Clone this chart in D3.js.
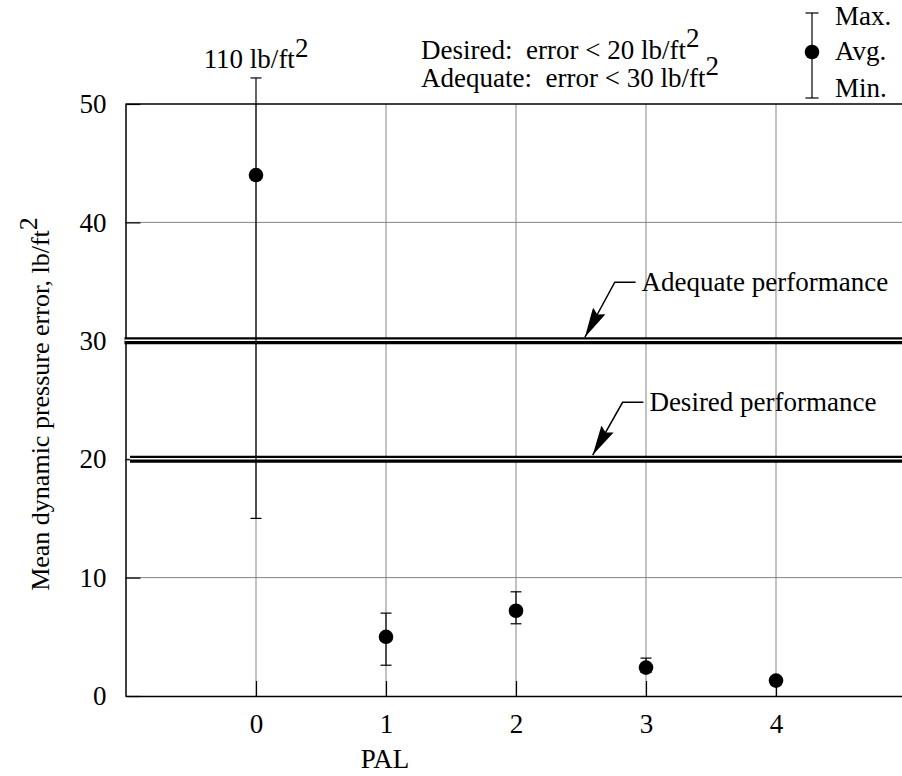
<!DOCTYPE html>
<html>
<head>
<meta charset="utf-8">
<script src="https://cdn.jsdelivr.net/npm/d3@7"></script>
<style>
  html, body { margin: 0; padding: 0; background: #fff; }
  svg { display: block; }
  text { font-family: "Liberation Serif", "Times New Roman", serif; fill: #000; }
</style>
</head>
<body>
<svg id="chart" width="902" height="776"></svg>
<script>
// Pilot assessment level (PAL) vs. mean dynamic pressure error
const palLevels = [0, 1, 2, 3, 4];
const avgError  = [44, 5.0, 7.2, 2.4, 1.3];
const maxError  = [110, 7.0, 8.8, 3.2, 1.6];
const minError  = [15, 2.6, 6.1, 2.0, 1.0];

const xTicks = [0, 1, 2, 3, 4];
const yTicks = [0, 10, 20, 30, 40, 50];

// performance limits (lb/ft^2)
const limitValues = [30, 20];
const limitNames  = ["Adequate performance", "Desired performance"];
// leader arrows for the limit labels, in data units: [tipX, tipY, bendX, bendY, endX]
const limitLeaders = [
  [2.53, 30.3, 2.76, 34.95, 2.92],
  [2.59, 20.35, 2.82, 24.8, 2.98]
];

// values above this are drawn with a capped stub and a value label
const offscaleCap = 52.2;

const svg = d3.select("#chart");

const x = d3.scaleLinear().domain([-1, 5]).range([126, 906]);
const y = d3.scaleLinear().domain([0, 50]).range([696, 104]);

const FS = 27;
const gridColor = "#858585";

// grid
const grid = svg.append("g");
grid.selectAll(".gx").data(xTicks).join("line")
  .attr("x1", d => x(d)).attr("x2", d => x(d))
  .attr("y1", y(50)).attr("y2", y(0))
  .attr("stroke", gridColor).attr("stroke-width", 1);
grid.selectAll(".gy").data(yTicks.filter(v => v > 0 && v < 50)).join("line")
  .attr("x1", x(-1)).attr("x2", x(5))
  .attr("y1", d => y(d)).attr("y2", d => y(d))
  .attr("stroke", gridColor).attr("stroke-width", 1);

// top frame line
svg.append("line")
  .attr("x1", x(-1) - 0.5).attr("x2", x(5))
  .attr("y1", y(50)).attr("y2", y(50))
  .attr("stroke", "#000").attr("stroke-width", 1.5);

// axes with inward ticks
const xAxis = svg.append("g")
  .attr("transform", `translate(0,${y(0)})`)
  .call(d3.axisBottom(x).tickValues(xTicks).tickFormat(d3.format("d"))
    .tickSizeInner(-15).tickSizeOuter(0).tickPadding(18));
const yAxis = svg.append("g")
  .attr("transform", `translate(${x(-1) - 0.5},0)`)
  .call(d3.axisLeft(y).tickValues(yTicks).tickFormat(d3.format("d"))
    .tickSizeInner(-15).tickSizeOuter(0).tickPadding(19));
[xAxis, yAxis].forEach(g => {
  g.select(".domain").attr("stroke", "#000").attr("stroke-width", 1.5);
  g.selectAll(".tick line").attr("stroke", "#000").attr("stroke-width", 1.2);
  g.selectAll(".tick text")
    .style("font-family", '"Liberation Serif", serif')
    .style("font-size", FS + "px").attr("fill", "#000");
});

// performance limit lines (double rule)
const limits = svg.append("g");
limitValues.forEach((v, i) => {
  const x0 = i === 0 ? x(-1) - 1.5 : x(-1) + 4;
  limits.append("line")
    .attr("x1", x0).attr("x2", x(5))
    .attr("y1", y(v)).attr("y2", y(v))
    .attr("stroke", "#000").attr("stroke-width", 7);
  limits.append("line")
    .attr("x1", x0).attr("x2", x(5))
    .attr("y1", y(v) - 0.5).attr("y2", y(v) - 0.5)
    .attr("stroke", "#fff").attr("stroke-width", 1.4);
});

// leader arrows and labels
const defs = svg.append("defs");
defs.append("marker")
  .attr("id", "arrowhead")
  .attr("viewBox", "0 0 30 14")
  .attr("refX", 30).attr("refY", 7)
  .attr("markerWidth", 30).attr("markerHeight", 14)
  .attr("markerUnits", "userSpaceOnUse")
  .attr("orient", "auto")
  .append("path").attr("d", "M0,0 L30,7 L0,14 L4,7 Z").attr("fill", "#000");

limitLeaders.forEach((L, i) => {
  const [tx, ty, bx, by, ex] = L;
  svg.append("path")
    .attr("d", `M${x(ex)},${y(by)} L${x(bx)},${y(by)} L${x(tx)},${y(ty)}`)
    .attr("fill", "none").attr("stroke", "#000").attr("stroke-width", 1.5)
    .attr("marker-end", "url(#arrowhead)");
  svg.append("text")
    .attr("x", x(ex) + 6).attr("y", y(by) + 9)
    .style("font-size", FS + "px")
    .text(limitNames[i]);
});

// error bars
const bars = svg.append("g");
const capHalf = 5.5;
palLevels.forEach((p, i) => {
  const top = Math.min(maxError[i], offscaleCap);
  const cx = x(p);
  bars.append("line")
    .attr("x1", cx).attr("x2", cx)
    .attr("y1", y(minError[i])).attr("y2", y(top))
    .attr("stroke", "#000").attr("stroke-width", 1.2);
  [minError[i], top].forEach(v => {
    bars.append("line")
      .attr("x1", cx - capHalf).attr("x2", cx + capHalf)
      .attr("y1", y(v)).attr("y2", y(v))
      .attr("stroke", "#000").attr("stroke-width", 1.2);
  });
  bars.append("circle")
    .attr("cx", cx).attr("cy", y(avgError[i])).attr("r", 7.3)
    .attr("fill", "#000");
  if (maxError[i] > offscaleCap) {
    const t = svg.append("text")
      .attr("x", cx).attr("y", y(top) - 10)
      .attr("text-anchor", "middle")
      .style("font-size", FS + "px");
    t.append("tspan").text(`${maxError[i]} lb/ft`);
    t.append("tspan").attr("dy", -11).text("2");
  }
});

// criteria text
const crit = [["Desired:  error < ", 20], ["Adequate:  error < ", 30]];
crit.forEach((c, i) => {
  const t = svg.append("text")
    .attr("x", 421).attr("y", 59 + i * 28)
    .attr("xml:space", "preserve")
    .style("white-space", "pre")
    .style("font-size", FS + "px");
  t.append("tspan").text(`${c[0]}${c[1]} lb/ft`);
  t.append("tspan").attr("dy", -12).text("2");
});

// legend
const lg = svg.append("g");
const lx = 812;
lg.append("line").attr("x1", lx).attr("x2", lx).attr("y1", 13).attr("y2", 98)
  .attr("stroke", "#000").attr("stroke-width", 1.2);
[13, 98].forEach(v => lg.append("line")
  .attr("x1", lx - 6.5).attr("x2", lx + 6.5).attr("y1", v).attr("y2", v)
  .attr("stroke", "#000").attr("stroke-width", 1.2));
lg.append("circle").attr("cx", lx).attr("cy", 52).attr("r", 7.3).attr("fill", "#000");
[["Max.", 25], ["Avg.", 60], ["Min.", 97]].forEach(d => lg.append("text")
  .attr("x", 835).attr("y", d[1]).style("font-size", FS + "px").text(d[0]));

// axis titles
svg.append("text")
  .attr("x", 385).attr("y", 768)
  .attr("text-anchor", "middle")
  .style("font-size", FS + "px")
  .text("PAL");

const yt = svg.append("text")
  .attr("transform", "translate(49,404) rotate(-90)")
  .attr("text-anchor", "middle")
  .style("font-size", (FS - 1) + "px");
yt.append("tspan").text("Mean dynamic pressure error, lb/ft");
yt.append("tspan").attr("dy", -12).text("2");
</script>
</body>
</html>
